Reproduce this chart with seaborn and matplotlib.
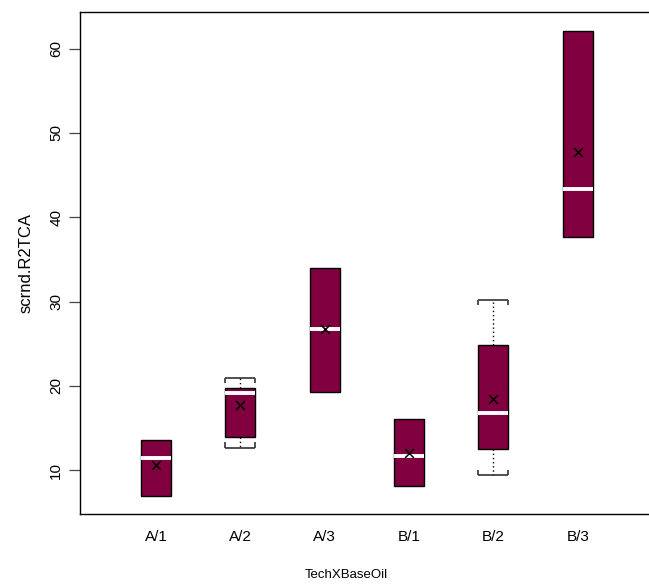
import numpy as np
import pandas as pd
import matplotlib
matplotlib.use("Agg")
import matplotlib.pyplot as plt
import seaborn as sns

# ---- data ----
categories = ["A/1", "A/2", "A/3", "B/1", "B/2", "B/3"]
whisker_low = [6.9, 12.7, 19.3, 8.1, 9.4, 37.7]
q1 = [6.9, 14.0, 19.3, 8.1, 12.5, 37.7]
median = [11.45, 19.2, 26.7, 11.65, 16.75, 43.35]
q3 = [13.55, 19.8, 34.0, 16.05, 24.8, 62.1]
whisker_high = [13.55, 21.0, 34.0, 16.05, 30.2, 62.1]
means = [10.65, 17.75, 26.8, 12.1, 18.4, 47.7]
y_ticks = [10, 20, 30, 40, 50, 60]

rows = []
for c, lo, a, m, b, hi in zip(categories, whisker_low, q1, median, q3, whisker_high):
    for v in (lo, a, m, b, hi):
        rows.append({"TechXBaseOil": c, "scrnd.R2TCA": v})
df = pd.DataFrame(rows)
mean_df = pd.DataFrame({"TechXBaseOil": categories, "mean": means})

sns.set_theme(style="white")
plt.rcParams["font.family"] = ["Liberation Sans", "DejaVu Sans"]

W, H = 649, 585
fig = plt.figure(figsize=(W / 100, H / 100), dpi=100)
left_px, right_px, top_px, bottom_px = 80, 649, 12.3, 513.8
ax = fig.add_axes([left_px / W, 1 - bottom_px / H, (right_px - left_px) / W, (bottom_px - top_px) / H])

box_w = 0.356
fill = "#800040"
sns.boxplot(data=df, x="TechXBaseOil", y="scrnd.R2TCA", order=categories, ax=ax,
            width=box_w, whis=(0, 100), color=fill, saturation=1, linecolor="black",
            linewidth=1.0, showcaps=False, fliersize=0,
            boxprops=dict(facecolor=fill, edgecolor="black", linewidth=1.0),
            whiskerprops=dict(color="black", linestyle=(0, (1, 2)), linewidth=1.0),
            medianprops=dict(color="white", linewidth=2.8, solid_capstyle="butt"))

# whisker staples with bracket ends
end_len = 0.6
for i, (lo, a, b, hi) in enumerate(zip(whisker_low, q1, q3, whisker_high)):
    if hi > b:
        ax.hlines(hi, i - box_w / 2, i + box_w / 2, color="#333333", linewidth=1.2, zorder=3)
        ax.vlines([i - box_w / 2, i + box_w / 2], hi - end_len, hi, color="#333333", linewidth=1.2, zorder=3)
    if lo < a:
        ax.hlines(lo, i - box_w / 2, i + box_w / 2, color="#333333", linewidth=1.2, zorder=3)
        ax.vlines([i - box_w / 2, i + box_w / 2], lo, lo + end_len, color="#333333", linewidth=1.2, zorder=3)

sns.scatterplot(data=mean_df, x="TechXBaseOil", y="mean", ax=ax, marker="x",
                color="black", s=40, linewidth=1.1, zorder=5)

ax.set_xlim(-0.901, 5.845)
ax.set_ylim(4.84, 64.3)
ax.set_yticks(y_ticks)
ax.set_yticklabels([str(t) for t in y_ticks], rotation=90, va="center")

for s in ("left", "top", "bottom"):
    ax.spines[s].set_visible(True)
    ax.spines[s].set_color("black")
    ax.spines[s].set_linewidth(1.0)
ax.spines["right"].set_visible(False)

ax.tick_params(axis="y", length=8, width=0.9, color="#444444", pad=4, labelsize=11,
               labelcolor="black", left=True)
ax.tick_params(axis="x", length=0, pad=12, labelsize=11, labelcolor="black")

ax.set_xlabel("TechXBaseOil", fontsize=9.5, color="black")
ax.set_ylabel("scrnd.R2TCA", fontsize=12, color="black")
ax.xaxis.set_label_coords((346 - left_px) / (right_px - left_px), -(569 - bottom_px) / (bottom_px - top_px))
ax.yaxis.set_label_coords((34 - left_px) / (right_px - left_px), 0.5)

fig.savefig("out.png", dpi=100, facecolor="white")
